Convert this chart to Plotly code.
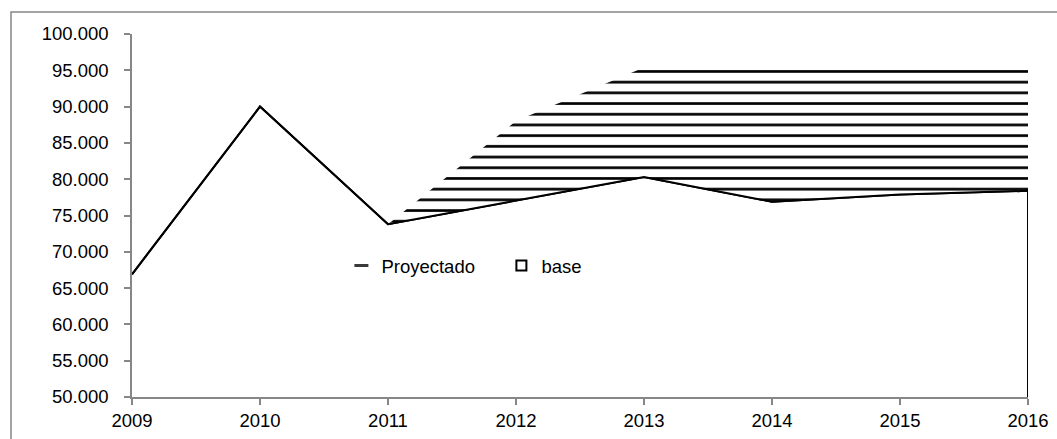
import plotly.graph_objects as go

# ---- data ----
years = [2009, 2010, 2011, 2012, 2013, 2014, 2015, 2016]
base = [66900, 90000, 73800, 77000, 80300, 76900, 77900, 78400]
proy_years = [2011, 2012, 2013, 2014, 2015, 2016]
proyectado = [0, 11000, 15100, 18500, 17500, 17000]
y_ticks = list(range(50000, 100001, 5000))
y_min, y_max = 50000, 100000

FONT = "Arial, Liberation Sans, sans-serif"
FS = 18.5
base_on_proy = [base[years.index(y)] for y in proy_years]
top_proy = [b + p for b, p in zip(base_on_proy, proyectado)]

fig = go.Figure()

# base area (white fill)
fig.add_trace(go.Scatter(x=years, y=base, mode="lines", fill="tozeroy",
                         fillcolor="white", line=dict(color="black", width=2),
                         showlegend=False, hoverinfo="skip"))
# invisible lower edge of projection
fig.add_trace(go.Scatter(x=proy_years, y=base_on_proy, mode="lines",
                         line=dict(width=0, color="rgba(0,0,0,0)"),
                         showlegend=False, hoverinfo="skip"))
# projected band (stacked on base) with horizontal hatch
fig.add_trace(go.Scatter(x=proy_years, y=top_proy, mode="lines", fill="tonexty",
                         fillcolor="white",
                         fillpattern=dict(shape="-", size=10.7, solidity=0.25,
                                          fgcolor="black", bgcolor="white", fgopacity=1),
                         line=dict(width=0, color="rgba(0,0,0,0)"),
                         showlegend=False, name="Proyectado"))
# base line on top
fig.add_trace(go.Scatter(x=years, y=base, mode="lines",
                         line=dict(color="black", width=2),
                         showlegend=False, name="base"))
# right closing edge of the base area
fig.add_trace(go.Scatter(x=[years[-1], years[-1]], y=[y_min, base[-1]], mode="lines",
                         line=dict(color="black", width=2),
                         showlegend=False, hoverinfo="skip"))

# legend entries
fig.add_trace(go.Scatter(x=[None], y=[None], mode="markers", name="Proyectado",
                         marker=dict(symbol="line-ew", size=10,
                                     line=dict(color="#3a3a3a", width=3))))
fig.add_trace(go.Scatter(x=[None], y=[None], mode="markers", name="base",
                         marker=dict(symbol="square", size=10, color="white",
                                     line=dict(color="black", width=2))))

fig.update_layout(
    width=1057, height=439,
    margin=dict(l=132, r=29, t=34, b=42, autoexpand=False),
    paper_bgcolor="white", plot_bgcolor="white",
    separators=",.",
    font=dict(family=FONT, size=FS, color="black"),
    showlegend=True,
    legend=dict(orientation="h", x=0.2337, y=0.361, xanchor="left", yanchor="middle",
                traceorder="normal",
                bgcolor="rgba(0,0,0,0)", entrywidth=115, entrywidthmode="pixels",
                font=dict(family=FONT, size=FS, color="black"), itemwidth=30),
    xaxis=dict(range=[years[0], years[-1]], tickvals=years, ticktext=[str(y) for y in years],
               showgrid=False, zeroline=False, showline=True, linecolor="#878787",
               linewidth=1.5, ticks="outside", ticklen=6, tickcolor="#878787", tickwidth=1.5,
               tickfont=dict(family=FONT, size=FS, color="black")),
    yaxis=dict(range=[y_min, y_max], tickvals=y_ticks, tickformat=",d",
               showgrid=False, zeroline=False, showline=True, linecolor="#878787",
               linewidth=1.5, ticks="outside", ticklen=6, tickcolor="#878787", tickwidth=1.5,
               ticklabelstandoff=12,
               tickfont=dict(family=FONT, size=FS, color="black")),
    shapes=[dict(type="rect", xref="paper", yref="paper",
                 x0=(11 - 132) / 896, x1=1.5, y0=-1, y1=(397 - 12) / 363,
                 line=dict(color="#878787", width=1.5), fillcolor="rgba(0,0,0,0)",
                 layer="below")],
)

fig.write_html("out.html", config={"displayModeBar": False},
               post_script="document.body.style.margin='0';document.body.style.overflow='hidden';")
